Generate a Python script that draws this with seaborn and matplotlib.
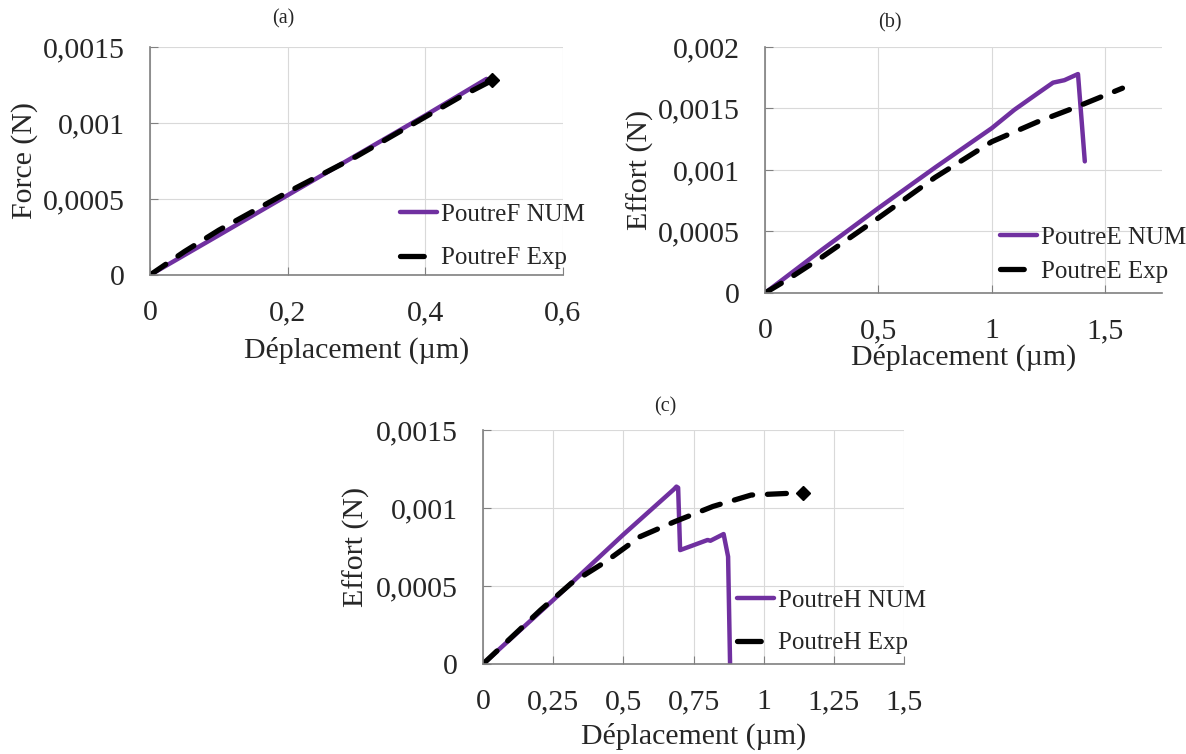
import numpy as np
import pandas as pd
import matplotlib
matplotlib.use("Agg")
import matplotlib.pyplot as plt
import seaborn as sns
from matplotlib.ticker import FuncFormatter, MultipleLocator

# Données
# (a) PoutreF
xa_num = [0, 0.1, 0.2, 0.3, 0.4, 0.489]
ya_num = [0, 0.000262, 0.000525, 0.000788, 0.00105, 0.00129]
xa_exp = [0, 0.05, 0.1, 0.2, 0.3, 0.4, 0.45, 0.497]
ya_exp = [0, 0.000154, 0.000295, 0.000545, 0.00078, 0.00104, 0.00117, 0.00128]

# (b) PoutreE
xb_num = [0, 0.25, 0.5, 0.75, 1.0, 1.1, 1.2, 1.27, 1.32, 1.38, 1.41]
yb_num = [0, 0.00035, 0.00069, 0.00102, 0.00134, 0.00149, 0.00162, 0.00171, 0.00173, 0.00178, 0.00107]
xb_exp = [0, 0.1, 0.25, 0.5, 0.75, 1.0, 1.2, 1.37, 1.576]
yb_exp = [0, 0.00011, 0.00029, 0.00061, 0.00094, 0.00123, 0.00139, 0.00151, 0.001665]

# (c) PoutreH
xc_num = [0, 0.25, 0.5, 0.68, 0.689, 0.695, 0.702, 0.8, 0.81, 0.857, 0.873, 0.88]
yc_num = [0, 0.00041, 0.00083, 0.00112, 0.001137, 0.00113, 0.00073, 0.000795, 0.00079, 0.000833, 0.000688, 0]
xc_exp = [0, 0.205, 0.314, 0.437, 0.559, 0.682, 0.819, 0.955, 1.139]
yc_exp = [0, 0.000346, 0.000517, 0.000656, 0.000816, 0.000912, 0.00101, 0.001083, 0.001098]

panneaux = [
    dict(nom="(a)", ylab="Force (N)", num="PoutreF NUM", exp="PoutreF Exp",
         xn=xa_num, yn=ya_num, xe=xa_exp, ye=ya_exp, marque=True,
         rect=[0.1265, 0.6353, 0.3482, 0.3024], xlim=0.6, xstep=0.2, ylim=0.0015,
         ylab_x=-0.303, xlab_y=-0.33, titre=(0.322, 1.125), leg=(0.605, 0.17), lsp=0.85),
    dict(nom="(b)", ylab="Effort (N)", num="PoutreE NUM", exp="PoutreE Exp",
         xn=xb_num, yn=yb_num, xe=xb_exp, ye=yb_exp, marque=False,
         rect=[0.645, 0.6114, 0.3347, 0.3263], xlim=1.75, xstep=0.5, ylim=0.002,
         ylab_x=-0.315, xlab_y=-0.26, titre=(0.315, 1.10), leg=(0.592, 0.155), lsp=0.45),
    dict(nom="(c)", ylab="Effort (N)", num="PoutreH NUM", exp="PoutreH Exp",
         xn=xc_num, yn=yc_num, xe=xc_exp, ye=yc_exp, marque=True,
         rect=[0.4073, 0.1194, 0.3550, 0.3103], xlim=1.5, xstep=0.25, ylim=0.0015,
         ylab_x=-0.30, xlab_y=-0.31, titre=(0.432, 1.098), leg=(0.603, 0.18), lsp=0.8),
]

sns.set_style("whitegrid", {"grid.color": "#d9d9d9", "axes.edgecolor": "#808080"})
plt.rcParams["font.family"] = ["Liberation Serif", "DejaVu Serif"]

violet = "#7030A0"
virgule = FuncFormatter(lambda v, p: f"{v:g}".replace(".", ","))

fig = plt.figure(figsize=(11.86, 7.54), dpi=100)

for p in panneaux:
    ax = fig.add_axes(p["rect"])
    df_num = pd.DataFrame({"x": p["xn"], "y": p["yn"]})
    df_exp = pd.DataFrame({"x": p["xe"], "y": p["ye"]})
    sns.lineplot(data=df_num, x="x", y="y", ax=ax, sort=False, estimator=None,
                 color=violet, lw=3.2, label=p["num"])
    sns.lineplot(data=df_exp, x="x", y="y", ax=ax, sort=False, estimator=None,
                 color="black", lw=3.8, dashes=False, label=p["exp"])
    ax.lines[1].set_dashes([3.6, 2.8])
    ax.lines[1].set_dash_capstyle("round")
    if p["marque"]:
        ax.plot(p["xe"][-1], p["ye"][-1], marker="D", ms=7, color="black", ls="none")

    ax.set_xlim(0, p["xlim"])
    ax.set_ylim(0, p["ylim"])
    ax.xaxis.set_major_locator(MultipleLocator(p["xstep"]))
    ax.yaxis.set_major_locator(MultipleLocator(0.0005))
    ax.xaxis.set_major_formatter(virgule)
    ax.yaxis.set_major_formatter(virgule)
    ax.tick_params(direction="in", length=6, color="#808080", labelsize=21.5, pad=18,
                   left=True, bottom=True)
    for s in ["top", "right"]:
        ax.spines[s].set_visible(False)
    for s in ["left", "bottom"]:
        ax.spines[s].set_linewidth(1.2)

    ax.set_xlabel("Déplacement (µm)", fontsize=21.5)
    ax.set_ylabel(p["ylab"], fontsize=21.5)
    ax.xaxis.set_label_coords(0.5, p["xlab_y"])
    ax.xaxis.label.set_va("center")
    ax.yaxis.set_label_coords(p["ylab_x"], 0.5)
    ax.yaxis.label.set_va("center")
    ax.text(p["titre"][0], p["titre"][1], p["nom"], transform=ax.transAxes,
            ha="center", va="center", fontsize=14.5)

    leg = ax.legend(loc="center left", bbox_to_anchor=p["leg"], frameon=False,
                    fontsize=18, handlelength=1.5, handletextpad=0.15,
                    borderpad=0, borderaxespad=0, labelspacing=p["lsp"])
    leg.get_lines()[1].set_dashes([4.5, 10])
    leg.get_lines()[1].set_dash_capstyle("round")

fig.savefig("out.png", dpi=100)
